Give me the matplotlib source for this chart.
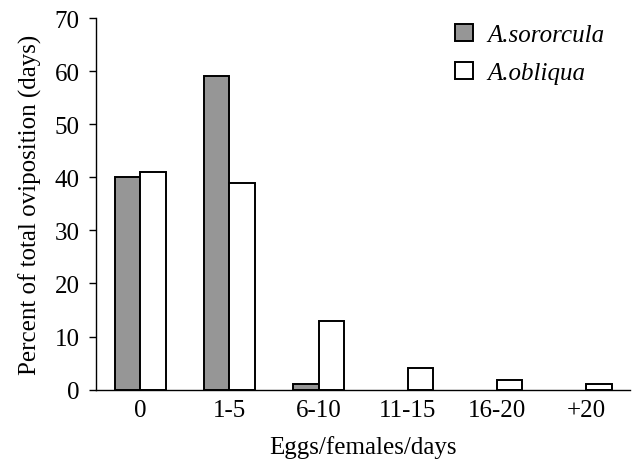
import matplotlib

matplotlib.use("Agg")
import matplotlib.pyplot as plt
import numpy as np

categories = ["0", "1-5", "6-10", "11-15", "16-20", "+20"]
sororcula = [40, 59, 1, 0, 0, 0]
obliqua = [41, 39, 13, 4, 1.8, 1.1]
yticks = [0, 10, 20, 30, 40, 50, 60, 70]

plt.rcParams["font.family"] = ["Liberation Serif", "DejaVu Serif"]
FS = 18

fig = plt.figure(figsize=(6.37, 4.64), dpi=100)
ax = fig.add_axes([0.151, 0.158, 0.838, 0.801])

x = np.arange(len(categories))
width = 0.285
sor = np.array(sororcula, dtype=float)
obl = np.array(obliqua, dtype=float)
# zero-height bars are left out so no stray edge sits on the axis
keep = sor > 0
ax.bar(x[keep] - width / 2, sor[keep], width, color="#969696", edgecolor="black",
       linewidth=1.4, label="A.sororcula", zorder=2)
ax.bar(x + width / 2, obl, width, color="white", edgecolor="black",
       linewidth=1.4, label="A.obliqua", zorder=2)

ax.set_xlim(-0.493, 5.49)
ax.set_ylim(0, 70)
ax.set_yticks(yticks)
ax.set_xticks(x)
ax.set_xticklabels(categories)
ax.tick_params(axis="x", length=0, labelsize=FS, pad=7)
ax.tick_params(axis="y", length=5, width=1, labelsize=FS, pad=7)
for side in ("top", "right"):
    ax.spines[side].set_visible(False)
for side in ("left", "bottom"):
    ax.spines[side].set_linewidth(1)

ax.set_ylabel("Percent of total oviposition (days)", fontsize=FS, labelpad=9)
ax.set_xlabel("Eggs/females/days", fontsize=FS, labelpad=10)

leg = ax.legend(loc="upper right", bbox_to_anchor=(0.995, 1.045), frameon=False,
                handlelength=0.7, handleheight=0.7, handletextpad=0.6,
                labelspacing=0.62, prop={"size": FS, "style": "italic"})

fig.savefig("out.png", dpi=100)
